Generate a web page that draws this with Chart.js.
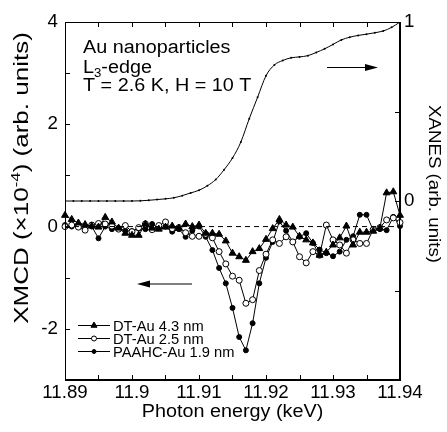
<!DOCTYPE html>
<html><head><meta charset="utf-8">
<script src="https://cdn.jsdelivr.net/npm/chart.js@4.4.0/dist/chart.umd.min.js"></script>
<style>html,body{margin:0;padding:0;background:#fff}</style>
</head><body>
<canvas id="c" width="447" height="432" style="width:447px;height:432px;display:block"></canvas>
<script>
// ---------------- data ----------------
const energyKeV = [11.890,11.891,11.892,11.893,11.894,11.895,11.896,11.897,11.898,11.899,
  11.900,11.901,11.902,11.903,11.904,11.905,11.906,11.907,11.908,11.909,
  11.910,11.911,11.912,11.913,11.914,11.915,11.916,11.917,11.918,11.919,
  11.920,11.921,11.922,11.923,11.924,11.925,11.926,11.927,11.928,11.929,
  11.930,11.931,11.932,11.933,11.934,11.935,11.936,11.937,11.938,11.939,11.940];
const xmcdDT43 = [0.22,0.14,0.07,0.04,0.01,-0.01,0.18,0.09,-0.03,-0.13,
  -0.17,-0.17,0.05,-0.03,-0.05,-0.01,0.01,-0.03,0.05,0.00,
  0.03,-0.13,-0.13,-0.15,-0.28,-0.52,-0.59,-0.66,-0.49,-0.43,
  -0.25,-0.04,0.14,0.03,-0.01,-0.19,-0.26,-0.32,-0.56,-0.50,
  -0.36,-0.22,0.01,-0.36,-0.11,-0.11,-0.09,-0.03,0.66,0.68,0.22];
const xmcdDT25 = [0.00,0.03,-0.01,-0.07,0.03,0.06,0.05,0.01,-0.05,0.02,
  -0.10,-0.02,0.05,-0.06,0.02,0.09,-0.04,-0.02,-0.12,-0.19,
  -0.19,-0.15,-0.22,-0.49,-0.73,-0.97,-1.05,-1.50,-1.43,-0.86,
  -0.54,-0.26,-0.33,-0.20,-0.30,-0.59,-0.71,-0.49,-0.56,0.03,
  -0.26,-0.36,-0.52,-0.26,-0.33,-0.33,-0.06,-0.02,0.13,0.17,0.08];
const xmcdPAAHC = [0.03,0.00,0.02,-0.05,0.00,-0.23,0.00,-0.05,-0.03,-0.08,
  -0.09,-0.04,-0.05,0.05,-0.03,0.00,-0.10,-0.05,-0.20,-0.08,
  0.00,-0.20,-0.46,-0.81,-1.11,-1.59,-2.16,-2.42,-1.89,-1.11,
  -0.61,-0.30,0.10,-0.08,-0.30,-0.20,-0.13,-0.32,-0.45,-0.52,
  -0.58,-0.49,-0.26,-0.19,0.23,0.23,-0.07,-0.05,-0.07,0.19,0.01];
const xanesEnergyKeV = [11.89,11.89125,11.8925,11.89375,11.895,11.89625,11.8975,11.89875,11.90,
  11.90125,11.9025,11.90375,11.905,11.90625,11.9075,11.90875,11.91,11.91125,11.9125,11.91375,
  11.915,11.91625,11.9175,11.91875,11.92,11.92125,11.9225,11.92375,11.925,11.92625,
  11.9275,11.92875,11.93,11.93125,11.9325,11.93375,11.935,11.93625,11.9375,11.93875,11.94];
const xanesNorm = [0,0,0,0,0,0,0,0,0,
  0.001,0.004,0.008,0.012,0.018,0.03,0.045,0.06,0.085,0.12,0.175,
  0.24,0.33,0.46,0.58,0.70,0.76,0.785,0.80,0.805,0.812,
  0.83,0.85,0.875,0.90,0.915,0.925,0.932,0.94,0.95,0.97,1.0];
const seriesNames = ['DT-Au 4.3 nm','DT-Au 2.5 nm','PAAHC-Au 1.9 nm'];
const xTickValues = [11.89,11.895,11.90,11.905,11.91,11.915,11.92,11.925,11.93,11.935,11.94];
const xTickLabels = ['11.89','','11.9','','11.91','','11.92','','11.93','','11.94'];
const yLeftTickValues = [-3,-2,-1,0,1,2,3,4];
const yLeftTickLabels = ['','-2','','0','','2','','4'];
const yRightTickValues = [-1,-0.5,0,0.5,1];
const yRightTickLabels = ['','','0','','1'];

// ---------------- helpers ----------------
const FF = '"Liberation Sans", Arial, Helvetica, sans-serif';
const pts = (xs, ys) => xs.map((x,i)=>({x:x, y:ys[i]}));

function richText(ctx, parts, x, y, rot, sx, align, baseline){
  ctx.save();
  ctx.fillStyle = '#000';
  ctx.textBaseline = baseline || 'alphabetic';
  ctx.textAlign = 'left';
  let w = 0;
  parts.forEach(p=>{ ctx.font = p.size+'px '+FF; p.w = ctx.measureText(p.t).width; w += p.w; });
  ctx.translate(x,y);
  if (rot) ctx.rotate(rot);
  ctx.scale(sx||1,1);
  let cx = align==='center' ? -w/2 : (align==='right' ? -w : 0);
  parts.forEach(p=>{ ctx.font = p.size+'px '+FF; ctx.fillText(p.t, cx, p.dy||0); cx += p.w; });
  ctx.restore();
}
function arrow(ctx, x1, x2, y, headAtLeft){
  ctx.save();
  ctx.strokeStyle='#000'; ctx.fillStyle='#000'; ctx.lineWidth=1.2;
  ctx.beginPath();
  if (headAtLeft){ ctx.moveTo(x1+10,y); ctx.lineTo(x2,y); }
  else { ctx.moveTo(x1,y); ctx.lineTo(x2-10,y); }
  ctx.stroke();
  ctx.beginPath();
  if (headAtLeft){ ctx.moveTo(x1,y); ctx.lineTo(x1+13,y-3.5); ctx.lineTo(x1+13,y+3.5); }
  else { ctx.moveTo(x2,y); ctx.lineTo(x2-13,y-3.5); ctx.lineTo(x2-13,y+3.5); }
  ctx.closePath(); ctx.fill();
  ctx.restore();
}

const decor = {
  id:'decor',
  afterDatasetsDraw(chart){
    const ctx = chart.ctx, a = chart.chartArea;
    const sx = chart.scales.x, sy = chart.scales.y, sy2 = chart.scales.y2;
    ctx.save();
    ctx.strokeStyle = '#000'; ctx.lineWidth = 1;
    ctx.strokeRect(Math.round(a.left)+0.5, Math.round(a.top)+0.5, Math.round(a.right-a.left)-1, Math.round(a.bottom-a.top)-1);
    const L = 5;
    ctx.beginPath();
    xTickValues.forEach(v=>{
      const px = Math.round(sx.getPixelForValue(v))+0.5;
      ctx.moveTo(px, a.bottom); ctx.lineTo(px, a.bottom-L);
      ctx.moveTo(px, a.top); ctx.lineTo(px, a.top+L);
    });
    yLeftTickValues.forEach(v=>{
      const py = Math.round(sy.getPixelForValue(v))+0.5;
      ctx.moveTo(a.left, py); ctx.lineTo(a.left+L, py);
    });
    yRightTickValues.forEach(v=>{
      const py = Math.round(sy2.getPixelForValue(v))+0.5;
      ctx.moveTo(a.right, py); ctx.lineTo(a.right-L, py);
    });
    ctx.stroke();
    ctx.restore();

    // tick labels placed from the library's scales
    xTickValues.forEach((v,i)=>{ if (xTickLabels[i]) richText(ctx,[{t:xTickLabels[i],size:18}], sx.getPixelForValue(v), a.bottom+4, 0, 1.04, 'center', 'top'); });
    yLeftTickValues.forEach((v,i)=>{ if (yLeftTickLabels[i]) richText(ctx,[{t:yLeftTickLabels[i],size:18}], a.left-7, sy.getPixelForValue(v), 0, 1.04, 'right', 'middle'); });
    yRightTickValues.forEach((v,i)=>{ if (yRightTickLabels[i]) richText(ctx,[{t:yRightTickLabels[i],size:18}], a.right+4, sy2.getPixelForValue(v), 0, 1.04, 'left', 'middle'); });

    // annotation text
    richText(ctx,[{t:'Au nanoparticles',size:18}],83,53,0,1.1);
    richText(ctx,[{t:'L',size:18},{t:'3',size:12,dy:4},{t:'-edge',size:18}],83,73,0,1.1);
    richText(ctx,[{t:'T = 2.6 K, H = 10 T',size:18}],83,91,0,1.1);
    arrow(ctx, 327, 378, 67.5, false);
    arrow(ctx, 137, 192, 284, true);

    // legend
    const rows = [325.5, 338.5, 351.5];
    const styles = [
      {ps:'triangle', r:3.5, fill:'#000'},
      {ps:'circle', r:2.5, fill:'#fff'},
      {ps:'circle', r:2, fill:'#000'}];
    rows.forEach((y,i)=>{
      ctx.save();
      ctx.strokeStyle='#000'; ctx.lineWidth=1;
      ctx.beginPath(); ctx.moveTo(78,y); ctx.lineTo(110,y); ctx.stroke();
      ctx.fillStyle = styles[i].fill;
      Chart.helpers.drawPoint(ctx,{pointStyle:styles[i].ps, radius:styles[i].r, rotation:0, borderWidth:1}, 94, y);
      ctx.restore();
      richText(ctx,[{t:seriesNames[i],size:14}],113,y+5,0,1.05);
    });

    // axis titles
    richText(ctx,[{t:'Photon energy (keV)',size:18}],232.5,417,0,1.1,'center');
    richText(ctx,[{t:'XMCD (\u00d710',size:20},{t:'-4',size:13,dy:-8},{t:') (arb. units)',size:20}],28,178,-Math.PI/2,1.3,'center');
    richText(ctx,[{t:'XANES (arb. units)',size:17}],429,184,Math.PI/2,1.1,'center');
  }
};

const axisCommon = {grid:{display:false, drawTicks:false, tickLength:0}, border:{display:true,color:'#000',width:1}};
new Chart(document.getElementById('c'), {
  type:'scatter',
  data:{ datasets:[
    {label:'zero', data:pts([11.89,11.94],[0,0]), yAxisID:'y', showLine:true, borderColor:'#000', borderWidth:1, borderDash:[5,4], pointRadius:0},
    {label:'XANES', data:pts(xanesEnergyKeV,xanesNorm), yAxisID:'y2', showLine:true, borderColor:'#000', borderWidth:1, cubicInterpolationMode:'monotone', pointRadius:1, pointBackgroundColor:'#000', pointBorderWidth:0},
    {label:seriesNames[0], data:pts(energyKeV,xmcdDT43), yAxisID:'y', showLine:true, borderColor:'#000', borderWidth:1, pointStyle:'triangle', pointRadius:4, pointBackgroundColor:'#000', pointBorderColor:'#000', pointBorderWidth:1, clip:8},
    {label:seriesNames[1], data:pts(energyKeV,xmcdDT25), yAxisID:'y', showLine:true, borderColor:'#000', borderWidth:1, pointStyle:'circle', pointRadius:3, pointBackgroundColor:'#fff', pointBorderColor:'#000', pointBorderWidth:1, clip:8},
    {label:seriesNames[2], data:pts(energyKeV,xmcdPAAHC), yAxisID:'y', showLine:true, borderColor:'#000', borderWidth:1, pointStyle:'circle', pointRadius:2.5, pointBackgroundColor:'#000', pointBorderColor:'#000', pointBorderWidth:1, clip:8}
  ]},
  options:{
    responsive:false, animation:false, devicePixelRatio:1,
    layout:{padding:{top:22,left:0,right:0,bottom:0}},
    plugins:{legend:{display:false}, tooltip:{enabled:false}},
    scales:{
      x:Object.assign({type:'linear', position:'bottom', min:11.89, max:11.94,
        afterBuildTicks:s=>{s.ticks = xTickValues.map(v=>({value:v}));},
        ticks:{display:false},
        afterFit:s=>{s.height=52;}}, axisCommon),
      y:Object.assign({type:'linear', position:'left', min:-3, max:4,
        afterBuildTicks:s=>{s.ticks = yLeftTickValues.map(v=>({value:v}));},
        ticks:{display:false},
        afterFit:s=>{s.width=65;}}, axisCommon),
      y2:Object.assign({type:'linear', position:'right', min:-1, max:1,
        afterBuildTicks:s=>{s.ticks = yRightTickValues.map(v=>({value:v}));},
        ticks:{display:false},
        afterFit:s=>{s.width=47;}}, axisCommon)
    }
  },
  plugins:[decor]
});
</script>
</body></html>
